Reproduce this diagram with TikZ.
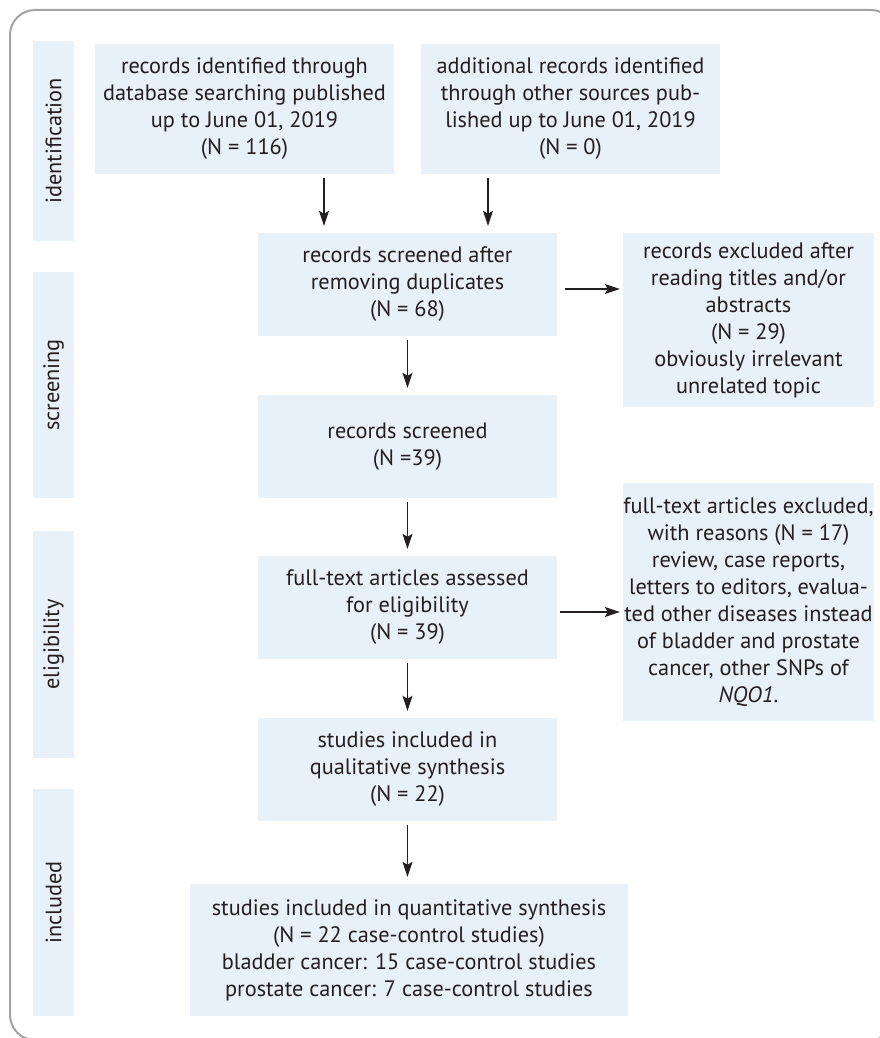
\documentclass[tikz,border=0pt]{standalone}
\usepackage{fontspec}
\setmainfont{PT Sans}
\usepackage{tikz}
\usetikzlibrary{arrows.meta,positioning}
\definecolor{Ink}{HTML}{231F20}
\definecolor{Frame}{HTML}{A3A3A3}
\definecolor{Pale}{HTML}{E8F0F8}
\tikzset{
  box/.style={fill=Pale,inner sep=0pt,align=center,text=Ink,font=\fontsize{22.3}{27}\selectfont},
  stage/.style={fill=Pale,inner sep=0pt,rotate=90,minimum height=41pt,text=Ink,font=\fontsize{22.3}{27}\selectfont},
  flow/.style={-{Stealth[length=15pt,width=10pt,inset=3pt]},draw=Ink,line width=1.3pt,shorten <=4pt,shorten >=7pt}
}
\begin{document}
\begin{tikzpicture}[x=1pt,y=-1pt]
      \useasboundingbox (0,0) rectangle (880,1038);
      \fill[white] (0,0) rectangle (880,1038);
      \begin{scope}
        \clip (0,0) rectangle (880,1038);
        \draw[Frame,line width=2pt,rounded corners=25pt] (10,10) rectangle (896,1040);
      \end{scope}
      % phase labels
      \node[stage,minimum width=200pt] (ident) at (53.5,141) {identification};
      \node[stage,minimum width=226pt] (screen) at (53.5,385) {screening};
      \node[stage,minimum width=227pt] (elig) at (53.5,644.5) {eligibility};
      \node[stage,minimum width=227pt] (incl) at (53.5,902.5) {included};
      % flow boxes
      \node[box,minimum width=299pt,minimum height=130pt] (found) at (244.5,109) {records identified through\\database searching published\\up to June 01, 2019\\(N = 116)};
      \node[box,minimum width=299pt,minimum height=130pt] (extra) at (570.5,109) {additional records identified\\through other sources pub-\\lished up to June 01, 2019\\(N = 0)};
      \node[box,minimum width=299pt,minimum height=103pt] (dedup) at (407.5,284.5) {records screened after\\removing duplicates\\(N = 68)};
      \node[box,minimum width=251pt,minimum height=174pt] (dropa) at (748.5,320) {records excluded after\\reading titles and/or\\abstracts\\(N = 29)\\obviously irrelevant\\unrelated topic};
      \node[box,minimum width=299pt,minimum height=103pt] (screened) at (407.5,446.5) {records screened\\(N =39)};
      \node[box,minimum width=299pt,minimum height=103pt] (fulltext) at (407.5,607.5) {full-text articles assessed\\for eligibility\\(N = 39)};
      \node[box,minimum width=251pt,minimum height=238pt] (dropb) at (748.5,602) {full-text articles excluded,\\with reasons (N = 17)\\review, case reports,\\letters to editors, evalua-\\ted other diseases instead\\of bladder and prostate\\cancer, other SNPs of\\\textit{NQO1}.};
      \node[box,minimum width=299pt,minimum height=103pt] (qual) at (407.5,769.5) {studies included in\\qualitative synthesis\\(N = 22)};
      \node[box,minimum width=438pt,minimum height=132pt] (quant) at (409,950) {studies included in quantitative synthesis\\(N = 22 case-control studies)\\bladder cancer: 15 case-control studies\\prostate cancer: 7 case-control studies};
      % connectors
      \draw[flow] ([xshift=-83.5pt]dedup.north |- found.south) -- ([xshift=-83.5pt]dedup.north);
      \draw[flow] ([xshift=80.5pt]dedup.north |- extra.south) -- ([xshift=80.5pt]dedup.north);
      \draw[flow,shorten <=8pt,shorten >=3pt] ([yshift=-4.5pt]dedup.east) -- ([yshift=-4.5pt]dedup.east -| dropa.west);
      \draw[flow] (dedup) -- (screened);
      \draw[flow] (screened) -- (fulltext);
      \draw[flow,shorten <=3pt,shorten >=3pt] ([yshift=-4.5pt]fulltext.east) -- ([yshift=-4.5pt]fulltext.east -| dropb.west);
      \draw[flow] (fulltext) -- (qual);
      \draw[flow] (qual.south) -- (qual.south |- quant.north);
    \end{tikzpicture}
\end{document}
